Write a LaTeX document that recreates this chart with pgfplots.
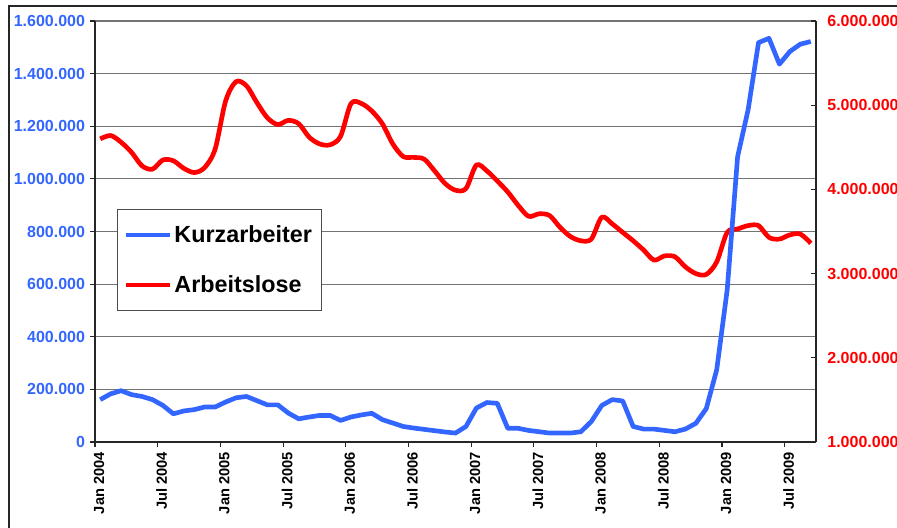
\documentclass[border=0pt]{standalone}
\usepackage{fontspec}
\setmainfont{Liberation Sans}
\usepackage{pgfplots}
\usepackage{pgfplotstable}
\pgfplotsset{compat=1.18}

\definecolor{kurzblau}{RGB}{51,102,255}
\definecolor{alored}{RGB}{255,0,0}

% month index (0 = Jan 2004), Kurzarbeiter, Arbeitslose
\pgfplotstableread{
m  kurz     alo
0  161000   4600000
1  183000   4640000
2  195000   4560000
3  180000   4440000
4  173000   4280000
5  161000   4240000
6  139000   4350000
7  107000   4340000
8  118000   4250000
9  123000   4200000
10 133000   4260000
11 133000   4480000
12 152000   5050000
13 168000   5280000
14 173000   5230000
15 157000   5030000
16 141000   4850000
17 141000   4770000
18 110000   4820000
19 88000    4780000
20 95000    4620000
21 101000   4540000
22 101000   4530000
23 82000    4630000
24 95000    5020000
25 103000   5020000
26 109000   4930000
27 85000    4780000
28 72000    4540000
29 59000    4390000
30 53000    4380000
31 48000    4360000
32 43000    4220000
33 38000    4070000
34 34000    3990000
35 59000    4010000
36 129000   4290000
37 150000   4220000
38 147000   4100000
39 52000    3970000
40 52000    3810000
41 44000    3680000
42 39000    3710000
43 34000    3690000
44 34000    3550000
45 34000    3440000
46 39000    3390000
47 78000    3410000
48 139000   3670000
49 161000   3590000
50 156000   3490000
51 59000    3390000
52 49000    3280000
53 49000    3160000
54 44000    3210000
55 39000    3200000
56 49000    3080000
57 71000    3000000
58 127000   2990000
59 275000   3140000
60 578000   3490000
61 1085000  3530000
62 1262000  3570000
63 1518000  3570000
64 1534000  3430000
65 1436000  3410000
66 1484000  3460000
67 1512000  3470000
68 1522000  3360000
}\datatab

\pgfplotsset{
  base/.style={
    width=540.75pt, height=315.75pt, scale only axis,
    xmin=-0.5, xmax=68.5,
    scaled y ticks=false,
    /pgf/number format/assume math mode=true,
    /pgf/number format/fixed,
    /pgf/number format/precision=0,
    /pgf/number format/1000 sep={.},
    axis line style={-, black!85, line width=1pt},
    tick style={black!85, line width=0.8pt},
    major tick length=4pt,
  }
}

\begin{document}
\begin{tikzpicture}
  % left axis with grid and the month labels
  \begin{axis}[base, name=ax1,
      ymin=0, ymax=1600000,
      axis x line*=bottom, axis y line*=left,
      tick align=outside,
      xtick={-0.5,5.5,...,65.5},
      xticklabels={Jan 2004,Jul 2004,Jan 2005,Jul 2005,Jan 2006,Jul 2006,
                   Jan 2007,Jul 2007,Jan 2008,Jul 2008,Jan 2009,Jul 2009},
      xticklabel style={xshift=3pt, rotate=90, anchor=east,
                        font=\fontsize{11}{13}\selectfont\bfseries},
      ytick={0,200000,...,1600000},
      yticklabel style={text=kurzblau, font=\fontsize{12}{14}\selectfont\bfseries},
      ymajorgrids, grid style={black!55, line width=0.8pt},
  ]
  \end{axis}

  % right axis: Arbeitslose
  \begin{axis}[base, name=ax2,
      ymin=1000000, ymax=6000000,
      axis x line=none, axis y line*=right,
      tick align=inside,
      ytick={1000000,2000000,...,6000000},
      yticklabel style={text=alored, xshift=5pt,
                        font=\fontsize{12}{14}\selectfont\bfseries},
  ]
    \addplot[alored, line width=3.5pt, smooth, line join=round]
      table[x=m, y=alo] {\datatab};
  \end{axis}

  % Kurzarbeiter on top, plus the legend
  \begin{axis}[base, hide axis,
      ymin=0, ymax=1600000,
      legend style={at={(0.030,0.553)}, anchor=north west,
                    draw=black!70, line width=0.8pt, fill=white,
                    font=\fontsize{17.5}{20}\selectfont\bfseries,
                    inner xsep=5pt, inner ysep=10pt, row sep=19pt,
                    cells={anchor=west}},
      legend image code/.code={\draw[#1, line width=3pt] (0pt,0pt) -- (33pt,0pt);},
  ]
    \addplot[kurzblau, line width=3.5pt, line join=round]
      table[x=m, y=kurz] {\datatab};
    \addlegendentry{Kurzarbeiter}
    \addlegendimage{alored}
    \addlegendentry{Arbeitslose}
  \end{axis}

  % outer chart frame (left and top edge only are visible)
  \draw[black!85, line width=1pt]
    ([xshift=-64.5pt, yshift=-80pt]ax1.south west)
    -- ([xshift=-64.5pt, yshift=11.25pt]ax1.north west)
    -- ([xshift=80pt, yshift=11.25pt]ax1.north east);

  \pgfresetboundingbox
  \useasboundingbox ([xshift=-71.25pt, yshift=-63.75pt]ax1.south west)
    rectangle ([xshift=60.75pt, yshift=15.75pt]ax1.north east);
\end{tikzpicture}
\end{document}
